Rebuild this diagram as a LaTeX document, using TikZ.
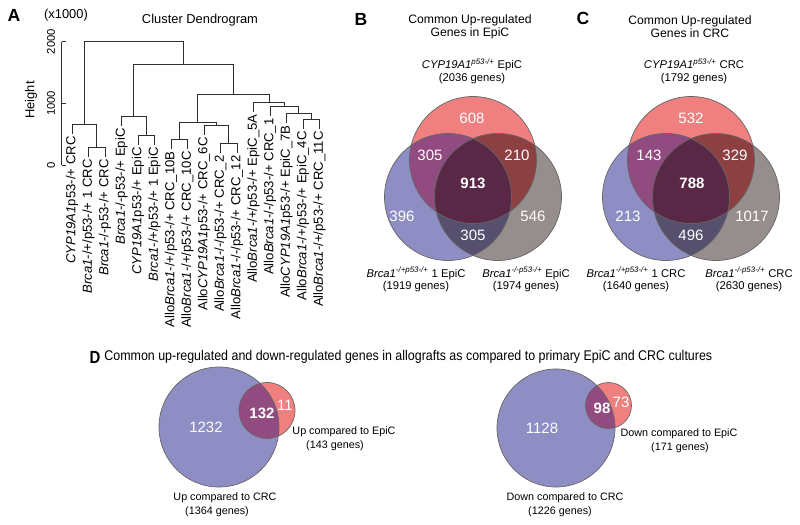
\documentclass[tikz,border=0pt]{standalone}
\usepackage{fontspec}
\setmainfont{Liberation Sans}
\usetikzlibrary{positioning}
\definecolor{vennRed}{RGB}{240,128,128}
\definecolor{vennBlue}{RGB}{142,142,196}
\definecolor{vennGrey}{RGB}{150,142,140}
\definecolor{vennRB}{RGB}{145,75,128}
\definecolor{vennRG}{RGB}{140,64,66}
\definecolor{vennBG}{RGB}{86,80,110}
\definecolor{vennRBG}{RGB}{88,40,70}
\definecolor{treeLine}{RGB}{45,45,45}
% three-set Venn, centred on x = #1
\newcommand{\vennThree}[1]{%
  \begin{scope}[shift={(#1,0)}]
    \fill[vennRed]  (0,160)   circle (63.5);
    \fill[vennBlue] (-25,197) circle (63.5);
    \fill[vennGrey] (25,197)  circle (63.5);
    \begin{scope}\clip (0,160) circle (63.5); \fill[vennRB] (-25,197) circle (63.5); \end{scope}
    \begin{scope}\clip (0,160) circle (63.5); \fill[vennRG] (25,197) circle (63.5); \end{scope}
    \begin{scope}\clip (-25,197) circle (63.5); \fill[vennBG] (25,197) circle (63.5); \end{scope}
    \begin{scope}\clip (0,160) circle (63.5); \clip (-25,197) circle (63.5);
      \fill[vennRBG] (25,197) circle (63.5); \end{scope}
    \draw[vennline] (0,160) circle (63.5) (-25,197) circle (63.5) (25,197) circle (63.5);
  \end{scope}}

\begin{document}
\begin{tikzpicture}[
    x=0.03cm, y=-0.03cm,
    panel/.style={font=\fontsize{15}{18}\selectfont\bfseries, inner sep=0pt},
    plain/.style={font=\fontsize{11}{13}\selectfont, inner sep=0pt},
    leaf/.style={rotate=90, anchor=east, inner sep=1pt, font=\fontsize{11.2}{13}\selectfont},
    tree/.style={draw=treeLine, line width=0.7pt},
    title/.style={align=center, inner sep=0pt, font=\fontsize{10.4}{11.1}\selectfont},
    setlab/.style={align=center, inner sep=0pt, font=\fontsize{9.6}{10.6}\selectfont},
    dlab/.style={align=center, inner sep=0pt, font=\fontsize{9.2}{12}\selectfont},
    num/.style={text=white, inner sep=0pt, font=\fontsize{12.8}{14}\selectfont},
    vennline/.style={draw=black!60, line width=0.6pt}
]
\useasboundingbox (0,0) rectangle (800,524);

% ---- A: dendrogram
\node[panel] (labA) at (14,15) {A};
\node[plain] (unitA) at (66,15) {(x1000)};
\node[plain] (titA) at (200,20) {Cluster Dendrogram};
\node[plain, rotate=90] (ylab) at (31,100) {Height};
\draw[tree] (61.5,41.7) -- (61.5,165);
\draw[tree] (61.5,41.7) -- (65.5,41.7) (61.5,103.3) -- (65.5,103.3) (61.5,165) -- (65.5,165);
\node[plain, rotate=90, font=\fontsize{9.6}{11}\selectfont] (t2) at (51,41.7) {2000};
\node[plain, rotate=90, font=\fontsize{9.6}{11}\selectfont] (t1) at (51,103.3) {1000};
\node[plain, rotate=90, font=\fontsize{9.6}{11}\selectfont] (t0) at (51,165) {0};

\draw[tree] (88.5,157) |- (105,147) -- (105,157);
\draw[tree] (72,134) |- (96.75,124) -- (96.75,147);
\draw[tree] (138,145) |- (154.5,135) -- (154.5,145);
\draw[tree] (121.5,126) |- (146.25,116) -- (146.25,135);
\draw[tree] (171,149) |- (187.5,139) -- (187.5,149);
\draw[tree] (220.5,153) |- (237,143) -- (237,153);
\draw[tree] (204,135) |- (228.75,125) -- (228.75,143);
\draw[tree] (179.25,139) |- (216.4,122) -- (216.4,125);
\draw[tree] (303,129) |- (319.5,119) -- (319.5,129);
\draw[tree] (286.5,123) |- (311.25,113) -- (311.25,119);
\draw[tree] (270,116) |- (298.9,106) -- (298.9,113);
\draw[tree] (253.5,112) |- (284.4,102) -- (284.4,106);
\draw[tree] (197.8,122) |- (269,94) -- (269,102);
\draw[tree] (133.9,116) |- (233.4,64) -- (233.4,94);
\draw[tree] (84.4,124) |- (183.6,41.7) -- (183.6,64);

\node[leaf] (l1)  at (72,135)    {\textit{CYP19A1}p53-/+ CRC};
\node[leaf] (l2)  at (88.5,158)  {\textit{Brca1}-/+/p53-/+ 1 CRC};
\node[leaf] (l3)  at (105,158)   {\textit{Brca1}-/-p53-/+ CRC};
\node[leaf] (l4)  at (121.5,127) {\textit{Brca1}-/-p53-/+ EpiC};
\node[leaf] (l5)  at (138,146)   {\textit{CYP19A1}p53-/+ EpiC};
\node[leaf] (l6)  at (154.5,146) {\textit{Brca1}-/+/p53-/+ 1 EpiC};
\node[leaf] (l7)  at (171,150)   {Allo\textit{Brca1}-/+/p53-/+ CRC\_10B};
\node[leaf] (l8)  at (187.5,150) {Allo\textit{Brca1}-/+/p53-/+ CRC\_10C};
\node[leaf] (l9)  at (204,136)   {Allo\textit{CYP19A1}p53-/+ CRC\_6C};
\node[leaf] (l10) at (220.5,154) {Allo\textit{Brca1}-/-/p53-/+ CRC\_2};
\node[leaf] (l11) at (237,154)   {Allo\textit{Brca1}-/-/p53-/+ CRC\_12};
\node[leaf] (l12) at (253.5,113) {Allo\textit{Brca1}-/+/p53-/+ EpiC\_5A};
\node[leaf] (l13) at (270,117)   {Allo\textit{Brca1}-/-/p53-/+ CRC\_1};
\node[leaf] (l14) at (286.5,124) {Allo\textit{CYP19A1}p53-/+ EpiC\_7B};
\node[leaf] (l15) at (303,130)   {Allo\textit{Brca1}-/+/p53-/+ EpiC\_4C};
\node[leaf] (l16) at (319.5,130) {Allo\textit{Brca1}-/+/p53-/+ CRC\_11C};

% ---- B: EpiC
\vennThree{473}
\node[panel] (labB) at (361,19) {B};
\node[title] (titB) at (470,26.5) {Common Up-regulated\\Genes in EpiC};
\node[setlab] (topB) at (472,71) {\textit{CYP19A1}\textsuperscript{\textit{p53-/+}} EpiC\\(2036 genes)};
\node[setlab] (leftB) at (416,279.5) {\textit{Brca1}\textsuperscript{\textit{-/+p53-/+}} 1 EpiC\\(1919 genes)};
\node[setlab] (rightB) at (526,279.5) {\textit{Brca1}\textsuperscript{\textit{-/-p53-/+}} EpiC\\(1974 genes)};
\node[num] (b1) at (472,118) {608};
\node[num] (b2) at (430,155) {305};
\node[num] (b3) at (517,155) {210};
\node[num, font=\fontsize{12.8}{14}\selectfont\bfseries] (b4) at (473,183) {913};
\node[num] (b5) at (402,216) {396};
\node[num] (b6) at (533,216) {546};
\node[num] (b7) at (473,235) {305};

% ---- C: CRC
\vennThree{691}
\node[panel] (labC) at (583,18) {C};
\node[title] (titC) at (690,26.5) {Common Up-regulated\\Genes in CRC};
\node[setlab] (topC) at (694,71) {\textit{CYP19A1}\textsuperscript{\textit{p53-/+}} CRC\\(1792 genes)};
\node[setlab] (leftC) at (636,279.5) {\textit{Brca1}\textsuperscript{\textit{-/+p53-/+}} 1 CRC\\(1640 genes)};
\node[setlab] (rightC) at (749,279.5) {\textit{Brca1}\textsuperscript{\textit{-/-p53-/+}} CRC\\(2630 genes)};
\node[num] (c1) at (691,118) {532};
\node[num] (c2) at (649,155) {143};
\node[num] (c3) at (735,155) {329};
\node[num, font=\fontsize{12.8}{14}\selectfont\bfseries] (c4) at (692,183) {788};
\node[num] (c5) at (628,216) {213};
\node[num] (c6) at (752,216) {1017};
\node[num] (c7) at (691,235) {496};

% ---- D: allografts
\node[panel] (labD) at (95,357) {\scalebox{0.85}[1]{D}};
\node[plain, anchor=west, right=3pt of labD, font=\fontsize{12}{14}\selectfont] (titD)
  {\scalebox{0.885}[1]{Common up-regulated and down-regulated genes in allografts as compared to primary EpiC and CRC cultures}};

\fill[vennBlue] (219,427) circle (60);
\fill[vennRed] (267,410.5) circle (28);
\begin{scope}\clip (267,410.5) circle (28); \fill[vennRB] (219,427) circle (60); \end{scope}
\draw[vennline] (219,427) circle (60) (267,410.5) circle (28);
\node[num] (d1) at (206,427) {1232};
\node[num, font=\fontsize{12.8}{14}\selectfont\bfseries] (d2) at (262,413) {132};
\node[num] (d3) at (285,405) {11};
\node[dlab] (upE) at (344,432) {Up compared to EpiC};
\node[dlab] (upEn) at (335,446) {(143 genes)};
\node[dlab] (upC) at (225,498) {Up compared to CRC};
\node[dlab] (upCn) at (217,512) {(1364 genes)};

\fill[vennBlue] (556,428) circle (59);
\fill[vennRed] (608.5,405.5) circle (23);
\begin{scope}\clip (608.5,405.5) circle (23); \fill[vennRB] (556,428) circle (59); \end{scope}
\draw[vennline] (556,428) circle (59) (608.5,405.5) circle (23);
\node[num] (e1) at (542,428) {1128};
\node[num, font=\fontsize{12.8}{14}\selectfont\bfseries] (e2) at (602,408) {98};
\node[num] (e3) at (621,402) {73};
\node[dlab] (dnE) at (679,434) {Down compared to EpiC};
\node[dlab] (dnEn) at (680,448) {(171 genes)};
\node[dlab] (dnC) at (565,498) {Down compared to CRC};
\node[dlab] (dnCn) at (560,512) {(1226 genes)};
\end{tikzpicture}
\end{document}
